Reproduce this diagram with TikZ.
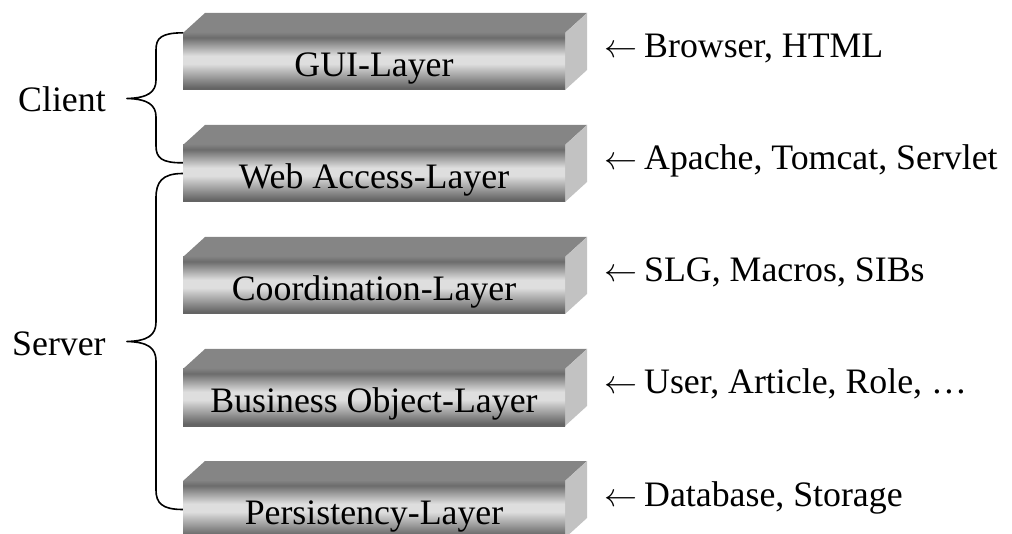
\RequirePackage{fix-cm}
\documentclass[tikz,border=0pt]{standalone}
\usepackage{fontspec}
\setmainfont{Liberation Serif}
\definecolor{lgtop}{RGB}{133,133,133}
\definecolor{lgside}{RGB}{194,194,194}
\definecolor{lfdark}{RGB}{100,100,100}
\definecolor{lflight}{RGB}{222,222,222}
\definecolor{lfmid}{RGB}{108,108,108}
\definecolor{lfedge}{RGB}{128,128,128}
\pgfdeclareverticalshading{layerfront}{100bp}{color(0bp)=(lfdark); color(25bp)=(lfdark); color(27bp)=(lfdark); color(48bp)=(lflight); color(55bp)=(lflight); color(71bp)=(lfmid); color(75bp)=(lfedge); color(100bp)=(lfedge)}
\newcommand\myfont{\fontsize{35.8}{40}\selectfont}
\newcommand\larr{{\fontsize{33}{36}\selectfont$\leftarrow$}\kern7pt}
\newcommand\layerbox[3]{%
  \fill[topface] (183,#2) -- (205,#2-20) -- (587,#2-20) -- (565,#2) -- cycle;
  \fill[sideface] (565,#2) -- (587,#2-20) -- (587,#2+37) -- (565,#2+57) -- cycle;
  \node[frontface] (#1) at (374,#2+28.5) {#3};
}
\begin{document}
\begin{tikzpicture}[x=1pt,y=-1pt,
  topface/.style={fill=lgtop},
  sideface/.style={fill=lgside},
  frontface/.style={shade, shading=layerfront, minimum width=382pt, minimum height=57pt,
    inner sep=0pt, text height=30pt, text depth=0pt, font=\myfont},
  lbl/.style={anchor=base west, inner sep=0pt, font=\myfont},
  bracestyle/.style={draw=black, line width=1.6pt, line join=round}]
\clip (0,0) rectangle (1012,534);
\useasboundingbox (0,0) rectangle (1012,534);
\layerbox{gui}{33}{GUI-Layer}
\layerbox{web}{145}{Web Access-Layer}
\layerbox{coord}{257}{Coordination-Layer}
\layerbox{bus}{369}{Business Object-Layer}
\layerbox{pers}{481}{Persistency-Layer}
\node[lbl] (l1) at (604,58) {\larr Browser, HTML};
\node[lbl] (l2) at (604,170) {\larr Apache, Tomcat, Servlet};
\node[lbl] (l3) at (604,282) {\larr SLG, Macros, SIBs};
\node[lbl] (l4) at (604,394) {\larr User, Article, Role, \dots};
\node[lbl] (l5) at (604,506) {\larr Database, Storage};
\node[lbl] (client) at (18,112) {Client};
\node[lbl] (server) at (12,356) {Server};
\draw[bracestyle] (gui.north west) .. controls (161,33) and (156,38) .. (156,50)
  -- (156,80) .. controls (156,92) and (148,98) .. (127,98.5)
  .. controls (148,99) and (156,105) .. (156,117)
  -- (156,146) .. controls (156,158) and (162,163) .. ([yshift=-18pt]web.north west);
\draw[bracestyle] (web.west) .. controls (162,173.5) and (156,182) .. (156,198)
  -- (156,322) .. controls (156,335) and (148,341) .. (127,341.5)
  .. controls (148,342) and (156,348) .. (156,361)
  -- (156,490) .. controls (156,503) and (162,509.5) .. (pers.west);
\end{tikzpicture}
\end{document}
